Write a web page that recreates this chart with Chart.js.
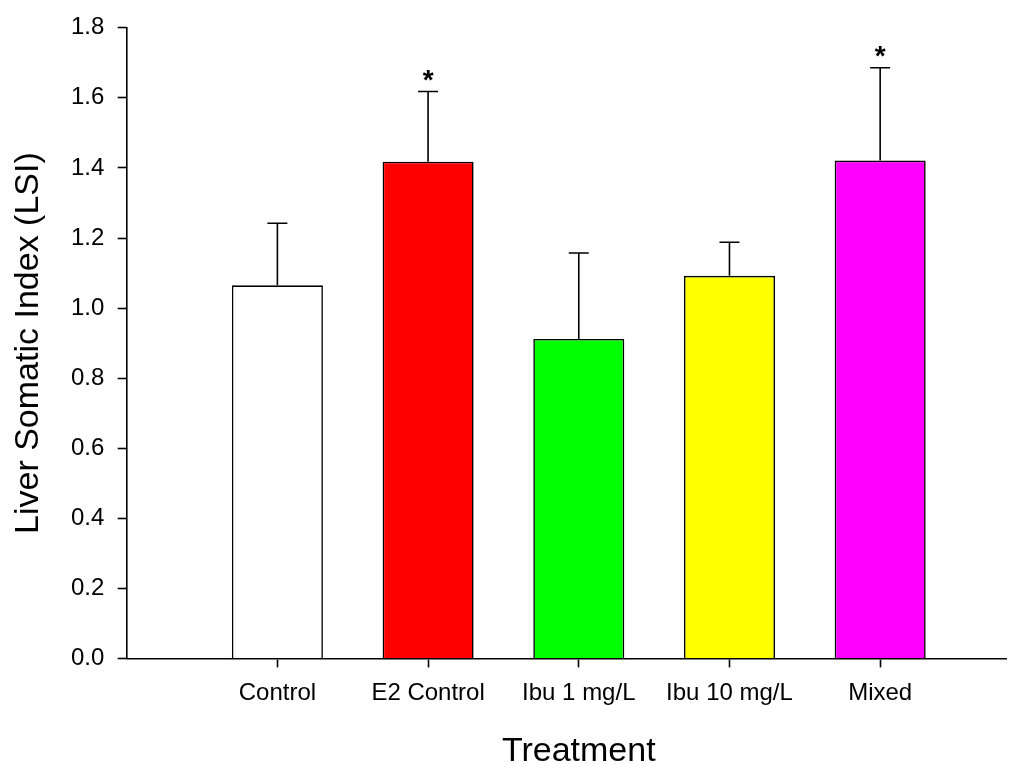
<!DOCTYPE html>
<html>
<head>
<meta charset="utf-8">
<title>Liver Somatic Index by Treatment</title>
<script src="https://cdn.jsdelivr.net/npm/chart.js@4/dist/chart.umd.min.js"></script>
<style>
  html, body { margin: 0; padding: 0; background: #ffffff; }
  #wrap { width: 1023px; height: 764px; }
</style>
</head>
<body>
<div id="wrap"><canvas id="lsi"></canvas></div>
<script>
// Treatment groups, mean LSI, error (upper bar) and significance marks
const categories = ['Control', 'E2 Control', 'Ibu 1 mg/L', 'Ibu 10 mg/L', 'Mixed'];
const lsiMean = [1.065, 1.418, 0.912, 1.092, 1.421];
const lsiError = [0.177, 0.200, 0.245, 0.096, 0.265];
const significance = ['', '*', '', '', '*'];
const barColors = ['#ffffff', '#ff0000', '#00ff00', '#ffff00', '#ff00ff'];
const yTickValues = [0, 0.2, 0.4, 0.6, 0.8, 1.0, 1.2, 1.4, 1.6, 1.8];
const xTitle = 'Treatment';
const yTitle = 'Liver Somatic Index (LSI)';

const FONT = "'Liberation Sans', Arial, Helvetica, sans-serif";

// Upper error bars with caps plus significance asterisks
const errorBarPlugin = {
  id: 'errorBars',
  afterDatasetsDraw(chart) {
    const ctx = chart.ctx;
    const yScale = chart.scales.y;
    const meta = chart.getDatasetMeta(0);
    ctx.save();
    ctx.strokeStyle = '#000000';
    ctx.lineWidth = 1.6;
    meta.data.forEach((bar, i) => {
      const x = bar.x;
      const yTop = yScale.getPixelForValue(lsiMean[i] + lsiError[i]);
      const yBase = bar.y;
      ctx.beginPath();
      ctx.moveTo(x, yBase);
      ctx.lineTo(x, yTop);
      ctx.moveTo(x - 10, yTop);
      ctx.lineTo(x + 10, yTop);
      ctx.stroke();
      if (significance[i]) {
        ctx.fillStyle = '#000000';
        ctx.font = 'bold 28px ' + FONT;
        ctx.textAlign = 'center';
        ctx.textBaseline = 'alphabetic';
        ctx.fillText(significance[i], x, yTop - 3);
      }
    });
    ctx.restore();
  }
};

// X-axis title, centred over the span of the treatment groups
const xTitlePlugin = {
  id: 'xTitle',
  afterDraw(chart) {
    const ctx = chart.ctx;
    const xScale = chart.scales.x;
    const cx = xScale.getPixelForValue((1 + categories.length) / 2);
    ctx.save();
    ctx.fillStyle = '#000000';
    ctx.font = '34px ' + FONT;
    ctx.textAlign = 'center';
    ctx.textBaseline = 'alphabetic';
    ctx.fillText(xTitle, cx, xScale.bottom - 3);
    ctx.restore();
  }
};

new Chart(document.getElementById('lsi'), {
  type: 'bar',
  data: {
    datasets: [{
      data: lsiMean.map((v, i) => ({ x: i + 1, y: v })),
      backgroundColor: barColors,
      borderColor: '#000000',
      borderWidth: 1.6,
      borderSkipped: 'start',
      barPercentage: 0.604,
      categoryPercentage: 1.0
    }]
  },
  options: {
    responsive: true,
    maintainAspectRatio: false,
    animation: false,
    devicePixelRatio: 1,
    layout: { padding: { top: 26, right: 17, bottom: 0, left: 0 } },
    plugins: {
      legend: { display: false },
      tooltip: { enabled: false }
    },
    scales: {
      x: {
        type: 'linear',
        min: 0,
        max: 5.835,
        offset: false,
        afterBuildTicks(scale) {
          scale.ticks = categories.map((c, i) => ({ value: i + 1 }));
        },
        afterFit(scale) { scale.height = 105.6; },
        border: { display: true, color: '#000000', width: 1.6 },
        grid: {
          offset: false,
          drawOnChartArea: false,
          drawTicks: true,
          tickLength: 9,
          tickColor: '#000000',
          tickWidth: 1.6
        },
        ticks: {
          color: '#000000',
          font: { family: FONT, size: 24 },
          padding: 11.5,
          maxRotation: 0,
          autoSkip: false,
          callback: (v) => categories[Math.round(v) - 1]
        },
        title: { display: false }
      },
      y: {
        min: 0,
        max: 1.8,
        afterBuildTicks(scale) {
          scale.ticks = yTickValues.map(v => ({ value: v }));
        },
        afterFit(scale) { scale.width = 126.7; },
        border: { display: true, color: '#000000', width: 1.6 },
        grid: {
          drawOnChartArea: false,
          drawTicks: true,
          tickLength: 9,
          tickColor: '#000000',
          tickWidth: 1.6
        },
        ticks: {
          color: '#000000',
          font: { family: FONT, size: 24 },
          padding: 13.4,
          callback: (v) => Number(v).toFixed(1)
        },
        title: {
          display: true,
          text: yTitle,
          color: '#000000',
          font: { family: FONT, size: 34 },
          padding: { top: 7.8, bottom: 0 }
        }
      }
    }
  },
  plugins: [errorBarPlugin, xTitlePlugin]
});
</script>
</body>
</html>
